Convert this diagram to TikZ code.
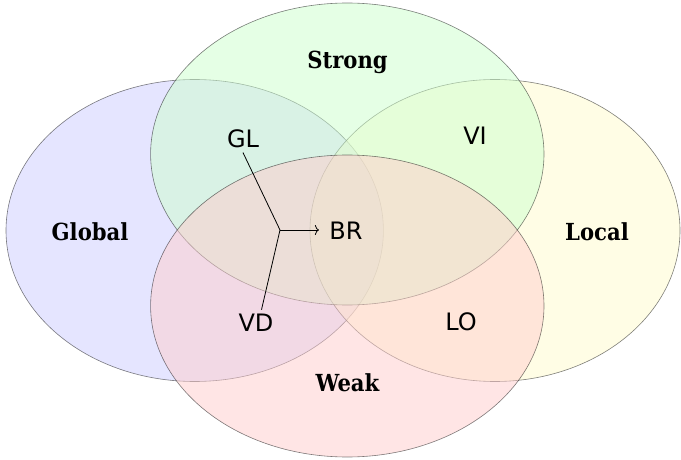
\documentclass[tikz,border=0pt]{standalone}
\usepackage{fontspec}
\newfontfamily\labelsans{DejaVu Sans}
\newfontfamily\labelserif{DejaVu Serif Condensed}
\usetikzlibrary{arrows.meta}
\begin{document}
\begin{tikzpicture}[x=1pt,y=-1pt,
  setshape/.style={draw=black, draw opacity=0.5, line width=0.6pt, fill opacity=0.5},
  setname/.style={font=\labelserif\bfseries\fontsize{23.5}{27}\selectfont},
  elem/.style={font=\labelsans\fontsize{24}{28}\selectfont},
  link/.style={line width=0.8pt}]
\useasboundingbox (0,0) rectangle (681,460);
\path[setshape, fill=blue!20] (194.7,230.5) ellipse [x radius=188.7, y radius=151];
\path[setshape, fill=yellow!20] (495,230.5) ellipse [x radius=185, y radius=151];
\path[setshape, fill=green!20] (347.3,154) ellipse [x radius=196.7, y radius=151];
\path[setshape, fill=red!20] (347.3,306) ellipse [x radius=196.7, y radius=151];
\node[setname] (strong) at (347.5,62) {Strong};
\node[setname] (global) at (90,232) {Global};
\node[setname] (local) at (597,232) {Local};
\node[setname] (weak) at (347.5,383) {Weak};
\node[elem] (gl) at (243,139) {GL};
\node[elem] (vi) at (475,136) {VI};
\node[elem] (br) at (346,231) {BR};
\node[elem] (vd) at (256,323) {VD};
\node[elem] (lo) at (461,322) {LO};
\coordinate (j) at (280,230);
\draw[link] (gl.south) ++(0,1) -- (j);
\draw[link] (vd.north) ++(5.5,-1) -- (j);
\draw[link,-{To[length=4pt,width=10pt]},shorten >=7pt] (j) -- (j -| br.west);
\end{tikzpicture}
\end{document}
